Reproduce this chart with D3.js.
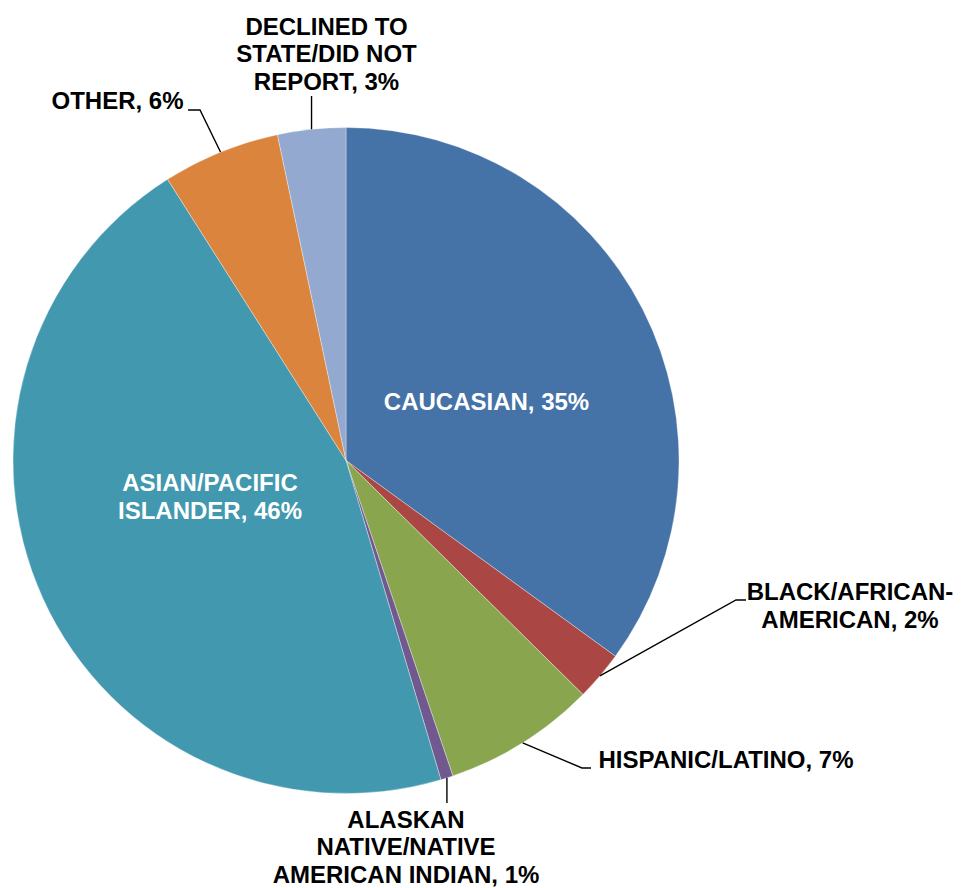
<!DOCTYPE html>
<html>
<head>
<meta charset="utf-8">
<script src="https://cdn.jsdelivr.net/npm/d3@7"></script>
<style>
  html, body { margin: 0; padding: 0; background: #fff; }
  svg { display: block; }
</style>
</head>
<body>
<svg id="chart" width="963" height="888"></svg>
<script>
// data, clockwise from 12 o'clock
const categories = [
  'CAUCASIAN',
  'BLACK/AFRICAN-AMERICAN',
  'HISPANIC/LATINO',
  'ALASKAN NATIVE/NATIVE AMERICAN INDIAN',
  'ASIAN/PACIFIC ISLANDER',
  'OTHER',
  'DECLINED TO STATE/DID NOT REPORT'
];
const shares = [35.0, 2.4, 7.4, 0.6, 45.6, 5.7, 3.3];
const colors = ['#4572A7', '#AA4643', '#89A54E', '#71588F', '#4198AF', '#DB843D', '#93A9CF'];
// label text as wrapped in the original (percent appended on the last line)
const labelLines = [
  ['CAUCASIAN,'],
  ['BLACK/AFRICAN-', 'AMERICAN,'],
  ['HISPANIC/LATINO,'],
  ['ALASKAN', 'NATIVE/NATIVE', 'AMERICAN INDIAN,'],
  ['ASIAN/PACIFIC', 'ISLANDER,'],
  ['OTHER,'],
  ['DECLINED TO', 'STATE/DID NOT', 'REPORT,']
];

// label placement (text centre x, first baseline y, colour, leader elbow points)
const layout = [
  { x: 486.5, y: 410, fill: '#fff', leader: null },
  { x: 850, y: 600, fill: '#000', leader: [[736, 600], [746, 600]] },
  { x: 726, y: 768, fill: '#000', leader: [[582, 768], [591, 768]] },
  { x: 406, y: 827.5, fill: '#000', leader: 'v803' },
  { x: 210, y: 491, fill: '#fff', leader: null },
  { x: 117.5, y: 109, fill: '#000', leader: [[200, 110], [188, 110]] },
  { x: 326.5, y: 34.5, fill: '#000', leader: 'v96' }
];

const cx = 346, cy = 460.5, radius = 333;
const lineHeight = 27.7;

const svg = d3.select('#chart');
const g = svg.append('g').attr('transform', `translate(${cx},${cy})`);

const pie = d3.pie().sort(null).value(d => d.value);
const arcs = pie(categories.map((c, i) => ({ name: c, value: shares[i], i })));

const arc = d3.arc().innerRadius(0).outerRadius(radius);
const edge = d3.arc().innerRadius(radius).outerRadius(radius);

g.selectAll('path.slice')
  .data(arcs)
  .enter()
  .append('path')
  .attr('class', 'slice')
  .attr('d', arc)
  .attr('fill', d => colors[d.data.i])
  .attr('stroke', '#fff')
  .attr('stroke-width', 0.35)
  .attr('stroke-linejoin', 'round');

// leader lines from the slice edge (mid angle) to the label
const total = d3.sum(shares);
arcs.forEach(d => {
  const spec = layout[d.data.i].leader;
  if (!spec) return;
  const [ex, ey] = edge.centroid(d);
  const start = [cx + ex, cy + ey];
  let pts;
  if (typeof spec === 'string') {
    pts = [start, [start[0], +spec.slice(1)]];
  } else {
    pts = [start].concat(spec);
  }
  svg.append('path')
    .attr('d', d3.line()(pts))
    .attr('fill', 'none')
    .attr('stroke', '#000')
    .attr('stroke-width', 1.4);
});

// labels
arcs.forEach(d => {
  const i = d.data.i;
  const pos = layout[i];
  const pct = Math.round(shares[i] / total * 100) + '%';
  const lines = labelLines[i].slice();
  lines[lines.length - 1] += ' ' + pct;
  const text = svg.append('text')
    .attr('x', pos.x)
    .attr('y', pos.y)
    .attr('text-anchor', 'middle')
    .attr('font-family', '"Liberation Sans", Arial, sans-serif')
    .attr('font-weight', 'bold')
    .attr('font-size', '24px')
    .attr('fill', pos.fill);
  lines.forEach((l, k) => {
    text.append('tspan')
      .attr('x', pos.x)
      .attr('y', pos.y + k * lineHeight)
      .text(l);
  });
});
</script>
</body>
</html>
